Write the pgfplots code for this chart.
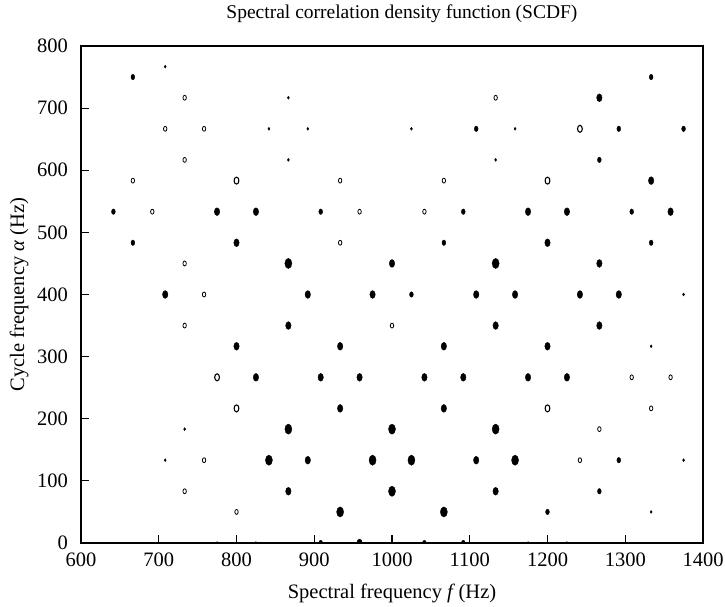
\documentclass[border=0pt]{standalone}
\usepackage{fontspec}
\setmainfont{Liberation Serif}
\usepackage{pgfplots}
\pgfplotsset{compat=1.18}
\begin{document}
\fontsize{20.5}{24}\selectfont
\begin{tikzpicture}
\begin{axis}[
  at={(0,0)}, anchor=south west,
  scale only axis, width=622pt, height=497pt,
  xmin=600, xmax=1400, ymin=0, ymax=800,
  xtick={600,700,...,1400}, ytick={0,100,...,800},
  xtick pos=bottom, ytick pos=left,
  tick align=inside,
  major tick length=8pt,
  axis line style={line width=1.4pt},
  every tick/.style={black, line width=1.2pt},
  /pgf/number format/assume math mode=true,
  /pgf/number format/1000 sep={},
  xticklabel style={font=\fontsize{20.5}{24}\selectfont, yshift=-3pt},
  yticklabel style={font=\fontsize{20.5}{24}\selectfont, xshift=-6pt},
  xlabel={Spectral frequency \textit{f}\,(Hz)},
  ylabel={Cycle frequency \textit{α} (Hz)},
  title={Spectral correlation density function (SCDF)},
  title style={font=\fontsize{19.5}{24}\selectfont, at={(axis description cs:0.516,1.0423)}, anchor=base},
  xlabel style={font=\fontsize{20.5}{24}\selectfont, at={(axis description cs:0.5,-0.1107)}, anchor=base},
  ylabel style={font=\fontsize{20.5}{24}\selectfont, at={(axis description cs:-0.0916,0.5)}, anchor=base},
  clip marker paths=true,
  only marks,
]
% large filled
\addplot[only marks, mark=*, mark size=3.5pt, mark options={yscale=1.45, fill=black, draw=black}] coordinates {
(866.7,450) (1133.3,450) (866.7,183.3) (1000,183.3) (1133.3,183.3)
(841.7,133.3) (975,133.3) (1025,133.3) (1158.3,133.3) (1000,83.3)
(933.3,50) (1066.7,50)
};
% medium filled
\addplot[only marks, mark=*, mark size=2.7pt, mark options={yscale=1.45, fill=black, draw=black}] coordinates {
(1266.7,716.7) (1333.3,583.3) (775,533.3) (825,533.3) (1175,533.3) (1225,533.3) (1358.3,533.3)
(800,483.3) (1200,483.3) (1000,450) (1266.7,450)
(708.3,400) (891.7,400) (975,400) (1108.3,400) (1158.3,400) (1241.7,400) (1291.7,400)
(866.7,350) (1133.3,350) (1266.7,350)
(800,316.7) (933.3,316.7) (1066.7,316.7) (1200,316.7)
(825,266.7) (908.3,266.7) (958.3,266.7) (1041.7,266.7) (1091.7,266.7) (1175,266.7) (1225,266.7)
(933.3,216.7) (1066.7,216.7) (891.7,133.3) (1108.3,133.3) (866.7,83.3) (1133.3,83.3) (958.3,0)
};
% small filled
\addplot[only marks, mark=*, mark size=1.9pt, mark options={yscale=1.45, fill=black, draw=black}] coordinates {
(666.7,750) (1333.3,750) (1108.3,666.7) (1291.7,666.7) (1375,666.7) (1266.7,616.7)
(641.7,533.3) (908.3,533.3) (1091.7,533.3) (1308.3,533.3)
(666.7,483.3) (1066.7,483.3) (1333.3,483.3) (1025,400) (1291.7,133.3) (1266.7,83.3)
(1200,50) (908.3,0) (1041.7,0) (1091.7,0)
};
% tiny filled
\addplot[only marks, mark=*, mark size=1.0pt, mark options={yscale=1.45, fill=black, draw=black}] coordinates {
(708.3,766.7) (866.7,716.7) (841.7,666.7) (891.7,666.7) (1025,666.7) (1158.3,666.7)
(866.7,616.7) (1133.3,616.7) (1375,400) (1333.3,316.7) (733.3,183.3) (708.3,133.3)
(1375,133.3) (1333.3,50) (775,0) (825,0) (1175,0) (1225,0)
};
% small hollow
\addplot[only marks, mark=o, mark size=1.7pt, mark options={yscale=1.45, draw=black, line width=0.8pt}] coordinates {
(733.3,716.7) (1133.3,716.7) (708.3,666.7) (758.3,666.7) (733.3,616.7)
(666.7,583.3) (933.3,583.3) (1066.7,583.3) (691.7,533.3) (958.3,533.3) (1041.7,533.3)
(933.3,483.3) (733.3,450) (758.3,400) (733.3,350) (1000,350)
(1308.3,266.7) (1358.3,266.7) (1333.3,216.7) (1266.7,183.3) (758.3,133.3) (1241.7,133.3)
(733.3,83.3) (800,50)
};
% larger hollow
\addplot[only marks, mark=o, mark size=2.4pt, mark options={yscale=1.45, draw=black, line width=1.1pt}] coordinates {
(800,583.3) (1200,583.3) (1241.7,666.7) (775,266.7) (800,216.7) (1200,216.7)
};
\end{axis}
\pgfresetboundingbox
\useasboundingbox (-81pt,-63pt) rectangle (644pt,543pt);
\end{tikzpicture}
\end{document}
